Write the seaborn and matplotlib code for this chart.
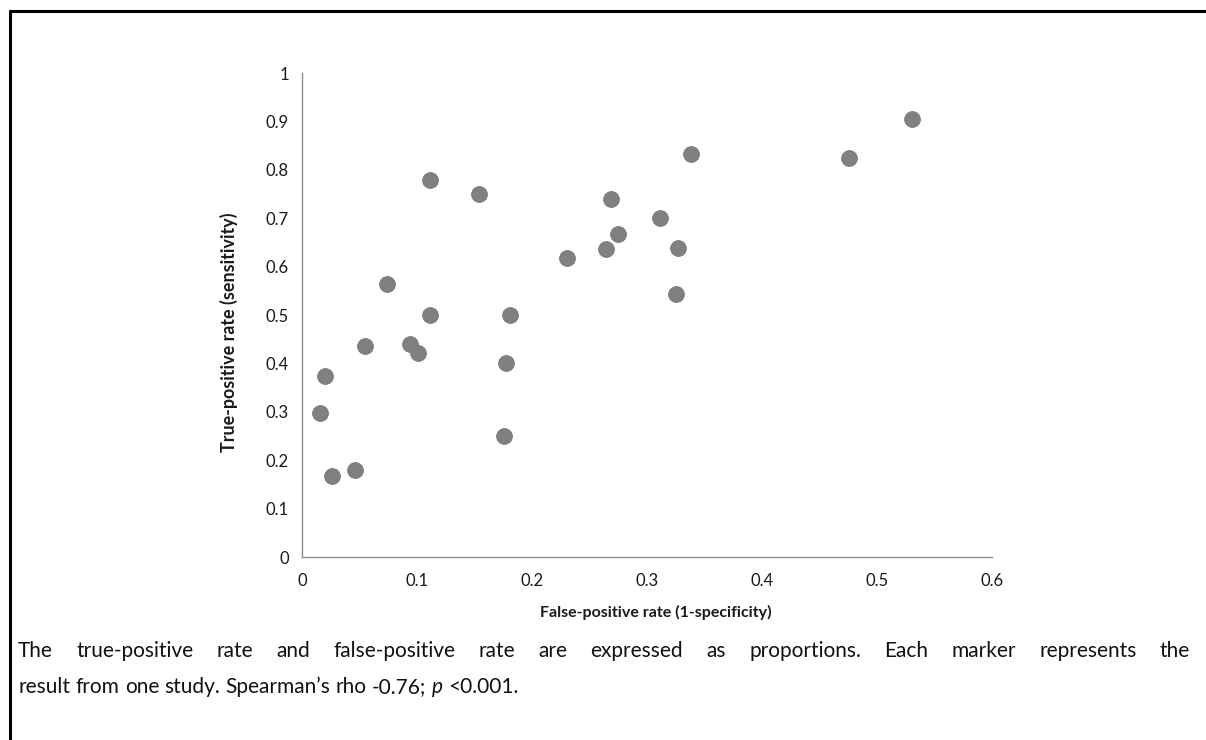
import matplotlib
matplotlib.use("Agg")
import matplotlib.pyplot as plt
from matplotlib.lines import Line2D
import seaborn as sns
import pandas as pd

# Per-study diagnostic accuracy
false_positive_rate = [0.111, 0.154, 0.074, 0.111, 0.181, 0.055, 0.094, 0.101,
                       0.177, 0.020, 0.016, 0.176, 0.026, 0.046, 0.338, 0.269,
                       0.311, 0.275, 0.264, 0.327, 0.230, 0.325, 0.530, 0.476]
true_positive_rate = [0.778, 0.750, 0.565, 0.500, 0.500, 0.435, 0.440, 0.422,
                      0.400, 0.375, 0.297, 0.250, 0.167, 0.180, 0.833, 0.740,
                      0.700, 0.667, 0.636, 0.639, 0.617, 0.543, 0.905, 0.825]

x_ticks = [0, 0.1, 0.2, 0.3, 0.4, 0.5, 0.6]
x_tick_labels = ["0", "0.1", "0.2", "0.3", "0.4", "0.5", "0.6"]
y_ticks = [0, 0.1, 0.2, 0.3, 0.4, 0.5, 0.6, 0.7, 0.8, 0.9, 1.0]
y_tick_labels = ["0", "0.1", "0.2", "0.3", "0.4", "0.5", "0.6", "0.7", "0.8", "0.9", "1"]

x_label = "False-positive rate (1-specificity)"
y_label = "True-positive rate (sensitivity)"
caption_line1 = ("The true-positive rate and false-positive rate are expressed as "
                 "proportions. Each marker represents the")
caption_line2 = [("result from one study. Spearman\u2019s rho -0.76;", "normal"),
                 ("p", "italic"), ("<0.001.", "normal")]

df = pd.DataFrame({"fpr": false_positive_rate, "tpr": true_positive_rate})

sns.set_style("white")
plt.rcParams["font.family"] = ["Lato", "DejaVu Sans"]

W, H = 1206, 740
fig = plt.figure(figsize=(W / 100, H / 100), dpi=100)
ax = fig.add_axes([302 / W, 1 - 557 / H, (992 - 302) / W, (557 - 73) / H])

sns.scatterplot(data=df, x="fpr", y="tpr", ax=ax, color="#808080",
                s=130, edgecolor="#7a7a7a", linewidth=0.6, zorder=3)

axis_grey = "#8c8c8c"
text_dark = "#1a1a1a"
ax.set_xlim(0, 0.6)
ax.set_ylim(0, 1)
ax.set_xticks(x_ticks)
ax.set_xticklabels(x_tick_labels)
ax.set_yticks(y_ticks)
ax.set_yticklabels(y_tick_labels)
ax.tick_params(axis="both", direction="out", length=4.5, width=1.0,
               color=axis_grey, labelsize=12, labelcolor=text_dark, pad=5)
ax.tick_params(axis="x", pad=7)
for side in ("top", "right"):
    ax.spines[side].set_visible(False)
for side in ("left", "bottom"):
    ax.spines[side].set_color(axis_grey)
    ax.spines[side].set_linewidth(1.0)

ax.set_xlabel(x_label, fontsize=11.5, fontweight="bold", color=text_dark)
ax.set_ylabel(y_label, fontsize=12.9, fontweight="bold", color=text_dark)
ax.xaxis.label.set_va("center")
ax.yaxis.label.set_va("center")
ax.xaxis.set_label_coords((656 - 302) / (992 - 302), -(612 - 557) / (557 - 73))
ax.yaxis.set_label_coords(-(302 - 229) / (992 - 302), (557 - 332) / (557 - 73))

# Frame lines along top and left of the figure
fig.add_artist(Line2D([10 / W, 1.0], [1 - 11 / H, 1 - 11 / H],
                      transform=fig.transFigure, color="black", linewidth=2.2))
fig.add_artist(Line2D([10 / W, 10 / W], [0, 1 - 11 / H],
                      transform=fig.transFigure, color="black", linewidth=2.2))

# Caption, first line justified between the margins
cap_size = 15.0
cap_color = "#111111"
left_px, right_px = 18, 1190
renderer = fig.canvas.get_renderer()


def text_width(s, style="normal"):
    t = fig.text(0, 0, s, fontsize=cap_size, style=style)
    w = t.get_window_extent(renderer).width
    t.remove()
    return w


space_w = text_width("n n") - text_width("nn")


def place_words(words, baseline_px, justify):
    widths = [text_width(w, style) for w, style in words]
    if justify and len(words) > 1:
        gap = (right_px - left_px - sum(widths)) / (len(words) - 1)
    else:
        gap = space_w
    x = left_px
    for (w, style), wd in zip(words, widths):
        fig.text(x / W, 1 - baseline_px / H, w, fontsize=cap_size, color=cap_color,
                 style=style, va="baseline", ha="left")
        x += wd + gap


words1 = [(w, "normal") for w in caption_line1.split(" ")]
words2 = []
for seg, style in caption_line2:
    words2.extend((w, style) for w in seg.split(" "))
place_words(words1, 657, True)
place_words(words2, 693, False)

fig.savefig("out.png", dpi=100, facecolor="white")
